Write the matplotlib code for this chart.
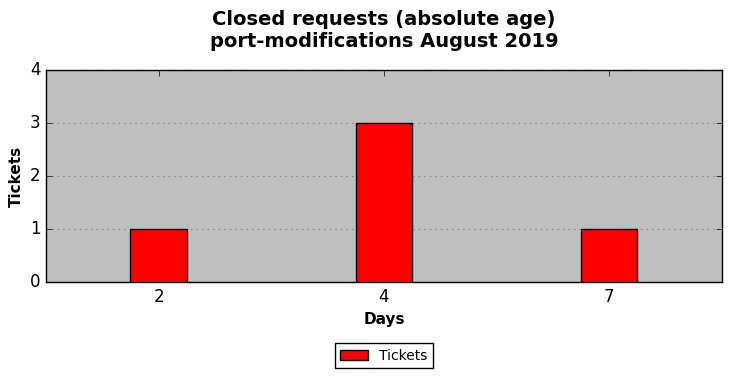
import matplotlib
matplotlib.use("Agg")
import matplotlib.pyplot as plt

plt.style.use("classic")

days = ["2", "4", "7"]
tickets = [1, 3, 1]

fig = plt.figure(figsize=(7.32, 3.78), dpi=100)
ax = fig.add_axes([0.0628, 0.254, 0.9235, 0.561])
ax.set_facecolor("#bfbfbf")

pos = list(range(len(days)))
ax.bar(pos, tickets, width=0.25, color="red", edgecolor="black", align="center",
       label="Tickets", zorder=3)
ax.set_xticks(pos)
ax.set_xticklabels(days)
ax.set_xlim(-0.5, len(days) - 0.5)
ax.set_ylim(0, 4)
ax.set_yticks([0, 1, 2, 3, 4])
ax.yaxis.grid(True, linestyle=":", color="#808080", linewidth=0.8, zorder=0)
ax.set_axisbelow(True)
ax.tick_params(labelsize=12)

ax.set_xlabel("Days", fontsize=11, fontweight="bold")
ax.set_ylabel("Tickets", fontsize=11, fontweight="bold", labelpad=4)
fig.suptitle("Closed requests (absolute age)\nport-modifications August 2019",
             fontsize=14, fontweight="bold", x=0.5246, y=0.974)

ax.legend(loc="upper center", bbox_to_anchor=(0.5, -0.256), fontsize=10,
          frameon=True, fancybox=False, handlelength=2, borderpad=0.4)

fig.savefig("out.png", dpi=100)
